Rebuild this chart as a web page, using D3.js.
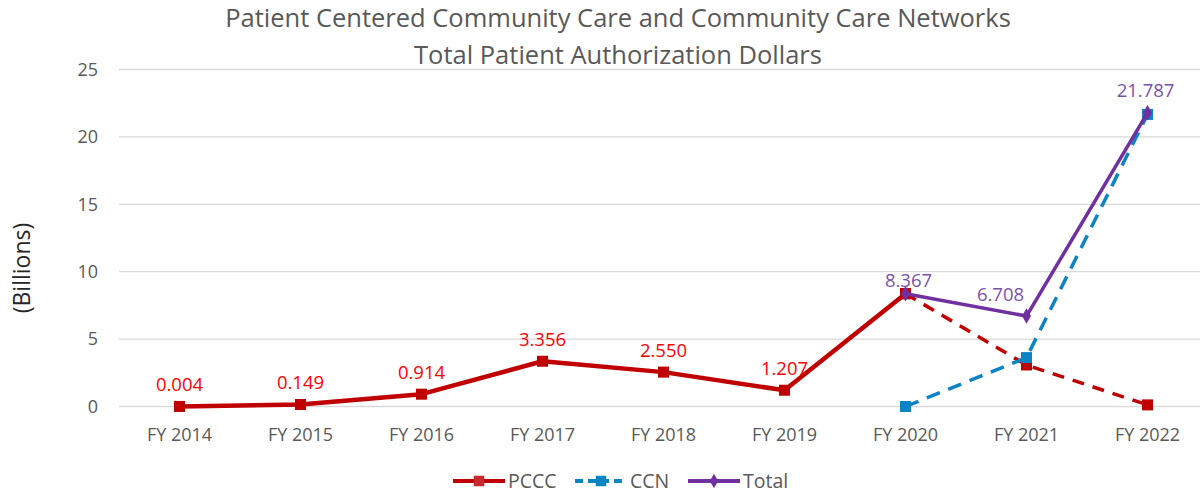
<!DOCTYPE html>
<html>
<head>
<meta charset="utf-8">
<script src="https://cdn.jsdelivr.net/npm/d3@7"></script>
<style>
  body { margin: 0; background: #fff; }
  text { font-family: "Open Sans", "Noto Sans", sans-serif; }
</style>
</head>
<body>
<script>
// chart data
var years = ["FY 2014", "FY 2015", "FY 2016", "FY 2017", "FY 2018", "FY 2019", "FY 2020", "FY 2021", "FY 2022"];
var pcccActual = [0.004, 0.149, 0.914, 3.356, 2.550, 1.207, 8.367, null, null];
var pcccProjected = [null, null, null, null, null, null, 8.367, 3.08, 0.12];
var ccnValues = [null, null, null, null, null, null, 0, 3.628, 21.667];
var totalValues = [null, null, null, null, null, null, 8.367, 6.708, 21.787];
var yTicks = [0, 5, 10, 15, 20, 25];
var titleLines = ["Patient Centered Community Care and Community Care Networks", "Total Patient Authorization Dollars"];

var width = 1203,
	height = 493;

var red = "#c00000", blue = "#0b84c6", purple = "#7030a0", grey = "#595959";

var svg = d3.select("body").append("svg")
	.attr("width", width)
	.attr("height", height);

var xScale = d3.scaleBand()
	.domain(years)
	.range([119, 1208]);

var yScale = d3.scaleLinear()
	.domain([0, 25])
	.range([406.5, 69.5]);

function cx(i){ return xScale(years[i]) + xScale.bandwidth() / 2; }

// gridlines
svg.selectAll(".grid")
	.data(yTicks)
	.enter()
	.append("line")
		.attr("x1", 119)
		.attr("x2", 1200)
		.attr("y1", function(d){ return yScale(d); })
		.attr("y2", function(d){ return yScale(d); })
		.attr("stroke", "#d9d9d9")
		.attr("stroke-width", 1.3);

// y axis labels
var yAxis = d3.axisLeft(yScale).tickValues(yTicks).tickSize(0).tickPadding(0);
svg.append("g")
	.attr("transform", "translate(98,0)")
	.call(yAxis)
	.call(function(g){
		g.select(".domain").remove();
		g.selectAll("text")
			.attr("font-size", 18)
			.attr("font-family", "Open Sans, sans-serif")
			.attr("fill", grey);
	});

// x axis labels
var xAxis = d3.axisBottom(xScale).tickSize(0).tickPadding(0);
svg.append("g")
	.attr("transform", "translate(0,428)")
	.call(xAxis)
	.call(function(g){
		g.select(".domain").remove();
		g.selectAll("text")
			.attr("font-size", 18)
			.attr("font-family", "Open Sans, sans-serif")
			.attr("fill", grey);
	});

// y title
svg.append("text")
	.attr("transform", "translate(30,268) rotate(-90)")
	.attr("text-anchor", "middle")
	.attr("font-size", 23)
	.attr("fill", "#262626")
	.text("(Billions)");

// chart title
svg.selectAll(".title")
	.data(titleLines)
	.enter()
	.append("text")
		.attr("x", 618)
		.attr("y", function(d, i){ return 27 + i * 37; })
		.attr("text-anchor", "middle")
		.attr("font-size", 25.5)
		.attr("fill", grey)
		.text(function(d){ return d; });

function makeLine(values){
	return d3.line()
		.defined(function(d){ return d != null; })
		.x(function(d, i){ return cx(i); })
		.y(function(d){ return yScale(d); })(values);
}

function squares(values, color, size){
	svg.append("g").selectAll("rect")
		.data(values.map(function(d, i){ return {v: d, i: i}; }).filter(function(d){ return d.v != null; }))
		.enter()
		.append("rect")
			.attr("x", function(d){ return cx(d.i) - size / 2; })
			.attr("y", function(d){ return yScale(d.v) - size / 2; })
			.attr("width", size)
			.attr("height", size)
			.attr("fill", color);
}

// PCCC projected (dashed)
svg.append("path")
	.attr("d", makeLine(pcccProjected))
	.attr("fill", "none")
	.attr("stroke", red)
	.attr("stroke-width", 3.5)
	.attr("stroke-dasharray", "12,9");
squares(pcccProjected, red, 11);

// CCN (dashed)
svg.append("path")
	.attr("d", makeLine(ccnValues))
	.attr("fill", "none")
	.attr("stroke", blue)
	.attr("stroke-width", 3.5)
	.attr("stroke-dasharray", "14,9");
squares(ccnValues, blue, 11);

// PCCC actual
svg.append("path")
	.attr("d", makeLine(pcccActual))
	.attr("fill", "none")
	.attr("stroke", red)
	.attr("stroke-width", 4.5)
	.attr("stroke-linejoin", "round");
squares(pcccActual, red, 11);

// Total
svg.append("path")
	.attr("d", makeLine(totalValues))
	.attr("fill", "none")
	.attr("stroke", purple)
	.attr("stroke-width", 3.5)
	.attr("stroke-linejoin", "round");
svg.append("g").selectAll("path")
	.data(totalValues.map(function(d, i){ return {v: d, i: i}; }).filter(function(d){ return d.v != null; }))
	.enter()
	.append("path")
		.attr("d", d3.symbol().type(d3.symbolDiamond).size(70))
		.attr("transform", function(d){ return "translate(" + cx(d.i) + "," + yScale(d.v) + ")"; })
		.attr("fill", purple);

// data labels
svg.append("g").selectAll("text")
	.data(pcccActual.map(function(d, i){ return {v: d, i: i}; }).filter(function(d){ return d.v != null && d.i < 6; }))
	.enter()
	.append("text")
		.attr("x", function(d){ return cx(d.i); })
		.attr("y", function(d){ return yScale(d.v) - 15; })
		.attr("text-anchor", "middle")
		.attr("font-size", 18.5)
		.attr("fill", "#ff0000")
		.text(function(d){ return d3.format(".3f")(d.v); });

var totalLabelShift = [null, null, null, null, null, null, [3, -7], [-26, -15], [-2, -16]];
svg.append("g").selectAll("text")
	.data(totalValues.map(function(d, i){ return {v: d, i: i}; }).filter(function(d){ return d.v != null; }))
	.enter()
	.append("text")
		.attr("x", function(d){ return cx(d.i) + totalLabelShift[d.i][0]; })
		.attr("y", function(d){ return yScale(d.v) + totalLabelShift[d.i][1]; })
		.attr("text-anchor", "middle")
		.attr("font-size", 18.5)
		.attr("fill", "#7a52ae")
		.text(function(d){ return d3.format(".3f")(d.v); });

// legend
var legendItems = [
	{name: "PCCC", color: red, x: 453, dash: null, mark: "square"},
	{name: "CCN", color: blue, x: 575, dash: "8,5", mark: "square"},
	{name: "Total", color: purple, x: 688, dash: null, mark: "diamond"}
];
var legend = svg.append("g").selectAll("g")
	.data(legendItems)
	.enter()
	.append("g")
		.attr("transform", function(d){ return "translate(" + d.x + ",481)"; });
legend.append("line")
	.attr("x1", 0)
	.attr("x2", 52)
	.attr("stroke", function(d){ return d.color; })
	.attr("stroke-width", 4)
	.attr("stroke-dasharray", function(d){ return d.dash; });
legend.append("path")
	.attr("d", function(d){
		return d.mark == "square" ? d3.symbol().type(d3.symbolSquare).size(110)() : d3.symbol().type(d3.symbolDiamond).size(60)();
	})
	.attr("transform", "translate(26,0)")
	.attr("fill", function(d){ return d.name == "PCCC" ? "#c8282e" : d.color; });
legend.append("text")
	.attr("x", 55)
	.attr("y", 7)
	.attr("font-size", 19.5)
	.attr("fill", grey)
	.text(function(d){ return d.name; });
</script>
</body>
</html>
